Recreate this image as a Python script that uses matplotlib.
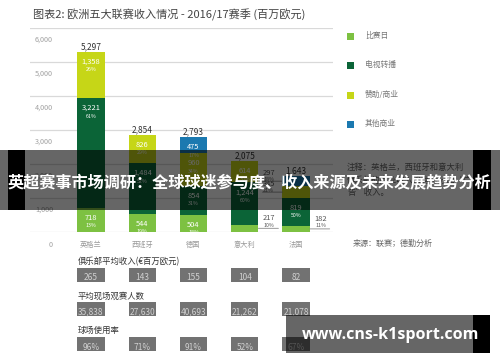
import matplotlib
matplotlib.use("Agg")
import matplotlib.pyplot as plt
from matplotlib.patches import Rectangle
import matplotlib.transforms as mtransforms

plt.rcParams['font.family'] = ['Noto Sans CJK SC', 'DejaVu Sans']

# ---------------- data ----------------
countries = ['英格兰', '西班牙', '德国', '意大利', '法国']
matchday = [718, 544, 504, 217, 182]
tv = [3221, 1484, 854, 1244, 819]
sponsor = [1358, 826, 960, 614, 345]
other = [0, 0, 475, 0, 297]
matchday_pct = [13, 19, 18, 10, 11]
tv_pct = [61, 52, 31, 60, 50]
sponsor_pct = [26, 29, 34, 30, 21]
other_pct = [0, 0, 17, 0, 18]
totals = [5297, 2854, 2793, 2075, 1643]
series_names = ['比赛日', '电视转播', '赞助/商业', '其他商业']
yticks = [0, 1000, 2000, 3000, 4000, 5000, 6000]
avg_revenue = ['265', '143', '155', '104', '82']
avg_attendance = ['35,838', '27,630', '40,693', '21,262', '21,078']
utilisation = ['96%', '71%', '91%', '52%', '67%']
table_titles = ['俱乐部平均收入(€百万欧元)', '平均现场观赛人数', '球场使用率']
title = '图表2: 欧洲五大联赛收入情况 - 2016/17赛季 (百万欧元)'
note = '注释：英格兰，西班牙和意大利\n俱乐部的商业收入没有拆分出“广\n告”收入。'
source = '来源：联赛；德勤分析'
banner = '英超赛事市场调研：全球球迷参与度、收入来源及未来发展趋势分析'
watermark = 'www.cns-k1sport.com'

colors = ['#7dc142', '#0b6437', '#c6d617', '#1b79b0']

W, H = 500, 362
fig = plt.figure(figsize=(W / 100, H / 100), dpi=100)
fig.patch.set_facecolor('white')


def fx(x):
    return x / W


def fy(y):
    return 1 - y / H


ax = fig.add_axes([fx(30), fy(232), fx(303), 204 / H])
ax.set_xlim(-1.19, 4.72)
ax.set_ylim(0, 6000)
for s in ax.spines.values():
    s.set_visible(False)
ax.set_xticks([])
ax.set_yticks(yticks)
ax.tick_params(axis='y', length=0, labelleft=False)
ax.yaxis.grid(True, color='#d9d9d9', lw=0.9)
ax.set_axisbelow(True)

for v in yticks:
    ax.annotate(f'{v:,}', xy=(0, v), xycoords=ax.get_yaxis_transform(),
                xytext=(23, -12 if v else -13), textcoords='offset pixels',
                ha='right', va='center', fontsize=5.2, color='#a0a0a0')

x = list(range(len(countries)))
bw = 0.53
series = [matchday, tv, sponsor, other]
pcts = [matchday_pct, tv_pct, sponsor_pct, other_pct]
bottoms = [0] * len(countries)
for si, (vals, pc) in enumerate(zip(series, pcts)):
    ax.bar(x, vals, bw, bottom=bottoms, color=colors[si], edgecolor='none', zorder=2)
    for i, v in enumerate(vals):
        if v <= 0:
            continue
        top = bottoms[i] + v
        if v >= 400:
            ax.annotate(f'{v:,}', xy=(i, top), xytext=(0, -10), textcoords='offset pixels',
                        ha='center', va='center', fontsize=5.4, color='white', zorder=3)
            ax.annotate(f'{pc[i]}%', xy=(i, top), xytext=(0, -18), textcoords='offset pixels',
                        ha='center', va='center', fontsize=3.8, color='white', zorder=3)
        else:
            mid = bottoms[i] + v / 2
            if si == 0:
                xe = i + bw / 2
                ax.annotate(f'{v:,}', xy=(xe, mid), xytext=(11, 10), textcoords='offset pixels',
                            ha='center', va='center', fontsize=5.4, color='#555555')
                ax.annotate(f'{pc[i]}%', xy=(xe, mid), xytext=(11, 3), textcoords='offset pixels',
                            ha='center', va='center', fontsize=3.8, color='#555555')
                ax.annotate('', xy=(xe, mid), xytext=(20, 0), textcoords='offset pixels',
                            arrowprops=dict(arrowstyle='-', color='#888888', lw=0.6,
                                            shrinkA=0, shrinkB=0))
            else:
                xe = i - bw / 2
                ax.annotate(f'{v:,}', xy=(xe, mid), xytext=(-14, 8), textcoords='offset pixels',
                            ha='center', va='center', fontsize=5.4, color='#555555')
                ax.annotate(f'{pc[i]}%', xy=(xe, mid), xytext=(-14, 2), textcoords='offset pixels',
                            ha='center', va='center', fontsize=3.8, color='#555555')
                ax.annotate('', xy=(xe, mid), xytext=(-20, 0), textcoords='offset pixels',
                            arrowprops=dict(arrowstyle='-', color='#888888', lw=0.6,
                                            shrinkA=0, shrinkB=0))
        bottoms[i] = top

for i, t in enumerate(totals):
    ax.annotate(f'{t:,}', xy=(i, t), xytext=(0, 1), textcoords='offset pixels',
                ha='center', va='bottom', fontsize=6, color='#333333')

# category labels
for i, c in enumerate(countries):
    ax.annotate(c, xy=(i, 0), xytext=(0, -13), textcoords='offset pixels',
                ha='center', va='center', fontsize=5.2, color='#9a9a9a')

# title
fig.text(fx(33), fy(15), title, fontsize=8, color='#444444', ha='left', va='center')

# legend
leg_y = [36, 65, 95, 124]
for c, name, yy in zip(colors, series_names, leg_y):
    fig.add_artist(Rectangle((fx(347), fy(yy + 3.5)), 7 / W, 7 / H, transform=fig.transFigure,
                             facecolor=c, edgecolor='none'))
    fig.text(fx(365), fy(yy), name, fontsize=5.6, color='#777777', ha='left', va='center')

fig.text(fx(347), fy(180), note, fontsize=6, color='#666666', ha='left', va='center',
         linespacing=1.55)
fig.text(fx(353), fy(243), source, fontsize=5.8, color='#666666', ha='left', va='center')

# bottom table
blend = mtransforms.blended_transform_factory(ax.transData, fig.transFigure)
rows = [avg_revenue, avg_attendance, utilisation]
head_y = [262, 296, 330]
box_top = [268, 302, 337]
bh = 14
for title_txt, hy, bt, vals in zip(table_titles, head_y, box_top, rows):
    fig.text(fx(78), fy(hy), title_txt, fontsize=6, color='#333333', ha='left', va='center',
             fontweight='medium')
    for i, v in enumerate(vals):
        ax.add_artist(Rectangle((i - bw / 2, fy(bt + bh)), bw, bh / H, transform=blend,
                                facecolor='#727272', edgecolor='none', clip_on=False))
        ax.text(i, fy(bt + bh - 4), v, transform=blend, ha='center', va='center',
                fontsize=6, color='#d0d0d0', clip_on=False)

# overlay banner
fig.add_artist(Rectangle((0, fy(210)), 1, 60 / H, transform=fig.transFigure,
                         facecolor='black', alpha=0.6, edgecolor='none', zorder=10))
fig.add_artist(Rectangle((fx(8), fy(210)), 17 / W, 60 / H, transform=fig.transFigure,
                         facecolor='black', edgecolor='none', zorder=10))
fig.add_artist(Rectangle((fx(473), fy(210)), 18 / W, 60 / H, transform=fig.transFigure,
                         facecolor='black', edgecolor='none', zorder=10))
fig.text(fx(249), fy(183), banner, fontsize=11.6, fontweight='bold', color='white',
         ha='center', va='center', zorder=11)

# watermark
fig.add_artist(Rectangle((fx(286), fy(353)), 187 / W, 38 / H, transform=fig.transFigure,
                         facecolor='black', alpha=0.6, edgecolor='none', zorder=10))
fig.add_artist(Rectangle((fx(473), fy(353)), 17 / W, 38 / H, transform=fig.transFigure,
                         facecolor='black', edgecolor='none', zorder=10))
fig.text(fx(391), fy(335), watermark, fontsize=11.5, fontweight='bold', color='white',
         ha='center', va='center', zorder=11, family=['Open Sans', 'DejaVu Sans'])

fig.savefig('out.png', dpi=100, facecolor='white')
